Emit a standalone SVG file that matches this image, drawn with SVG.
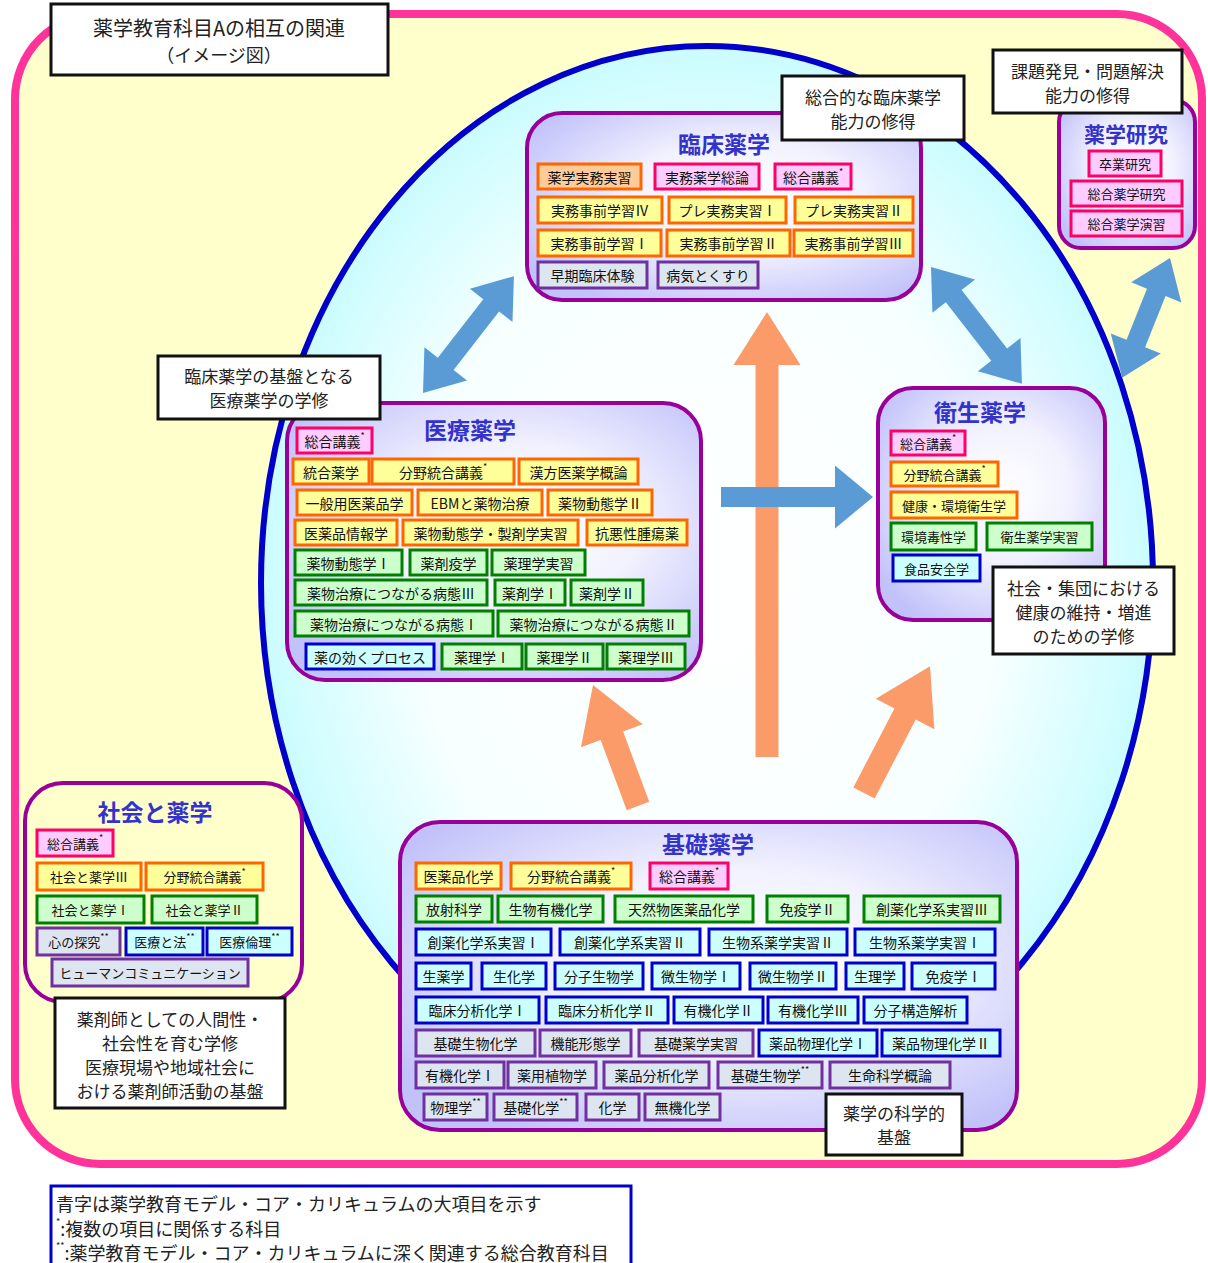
<svg xmlns="http://www.w3.org/2000/svg" width="1208" height="1263" viewBox="0 0 1208 1263">
<defs>
<radialGradient id="gEl" cx="50%" cy="50%" r="50%">
<stop offset="0" stop-color="#ffffff"/>
<stop offset="0.65" stop-color="#f8ffff"/>
<stop offset="1" stop-color="#cafcff"/>
</radialGradient>
<radialGradient id="gPn" cx="55%" cy="45%" r="65%">
<stop offset="0" stop-color="#ffffff"/>
<stop offset="0.45" stop-color="#f2f2ff"/>
<stop offset="1" stop-color="#c2c2fa"/>
</radialGradient>
<style>
text{font-family:"Noto Sans CJK JP","Noto Sans CJK SC",sans-serif;}
.pk{fill:#ffccff;stroke:#ff0066;stroke-width:3}
.or{fill:#ffff99;stroke:#ff6600;stroke-width:3}
.op{fill:#ffcc99;stroke:#ff6600;stroke-width:3}
.gr{fill:#ccffcc;stroke:#008000;stroke-width:3}
.bl{fill:#ccffff;stroke:#0000cc;stroke-width:3}
.pu{fill:#dde6f0;stroke:#7030a0;stroke-width:3}
.t{font-size:14px;fill:#111;text-anchor:middle;dominant-baseline:central}
.s{font-size:13px}
.ti{font-size:23px;font-weight:bold;fill:#3333cc;text-anchor:middle;dominant-baseline:central}
.pn{fill:url(#gPn);stroke:#990099;stroke-width:4}
.lb{fill:#ffffff;stroke:#111111;stroke-width:3}
.lt{font-size:17px;fill:#222;text-anchor:middle;dominant-baseline:central}
.ab{fill:#5b9bd5}
.ao{fill:#fb9b69}
.sup{font-size:9px}
.lg{font-size:18px;fill:#222;dominant-baseline:central}
</style>
</defs>

<rect x="0" y="0" width="1208" height="1263" fill="#ffffff"/>
<rect id="frame" x="15" y="14" width="1187" height="1150" rx="85" fill="#ffffcc" stroke="#ff3399" stroke-width="8"/>
<ellipse id="circle" cx="707" cy="583" rx="446" ry="537" fill="url(#gEl)" stroke="#0000cc" stroke-width="6"/>

<g id="connectors">
<polygon class="ao" points="0,-11.5 392,-11.5 392,-33.5 445,0 392,33.5 392,11.5 0,11.5" transform="translate(767,757) rotate(-90)"/>
<polygon class="ao" points="0,-12 75,-12 75,-33 129,0 75,33 75,12 0,12" transform="translate(638,806) rotate(-110.4)"/>
<polygon class="ao" points="0,-12 89,-12 89,-33 143,0 89,33 89,12 0,12" transform="translate(864,793) rotate(-62.5)"/>
<polygon class="ab" points="0,-10 114,-10 114,-31.5 152,0 114,31.5 114,10 0,10" transform="translate(721,497)"/>
<polygon class="ab" points="0,0 37,-27 37,-10 111,-10 111,-27 148,0 111,27 111,10 37,10 37,27" transform="translate(423,393) rotate(-52.1)"/>
<polygon class="ab" points="0,0 37,-27 37,-10 111,-10 111,-27 148,0 111,27 111,10 37,10 37,27" transform="translate(931,267) rotate(52.1)"/>
<polygon class="ab" points="0,0 37,-27 37,-10 92,-10 92,-27 129,0 92,27 92,10 37,10 37,27" transform="translate(1170,258) rotate(111.8)"/>
</g>

<g id="title">
<rect class="lb" x="51" y="4" width="337" height="71"/>
<text class="lt" x="219" y="27" style="font-size:20px">薬学教育科目Aの相互の関連</text>
<text class="lt" x="219" y="54" style="font-size:18px">（イメージ図）</text>
</g>

<g id="clinical">
<rect class="pn" x="527" y="113" width="394" height="187" rx="35"/>
<text class="ti" x="724" y="143">臨床薬学</text>
<rect class="op" x="538" y="164" width="103" height="25"/><text class="t" x="589.5" y="176.5">薬学実務実習</text>
<rect class="pk" x="655" y="164" width="104" height="25"/><text class="t" x="707" y="176.5">実務薬学総論</text>
<rect class="pk" x="775" y="164" width="76" height="25"/><text class="t" x="813" y="176.5">総合講義<tspan class="sup" dy="-6">*</tspan></text>
<rect class="or" x="538" y="197" width="124" height="26"/><text class="t" x="600" y="210">実務事前学習Ⅳ</text>
<rect class="or" x="669" y="197" width="117" height="26"/><text class="t" x="727.5" y="210">プレ実務実習Ⅰ</text>
<rect class="or" x="795" y="197" width="118" height="26"/><text class="t" x="854" y="210">プレ実務実習Ⅱ</text>
<rect class="or" x="538" y="230" width="123" height="26"/><text class="t" x="599.5" y="243">実務事前学習Ⅰ</text>
<rect class="or" x="667" y="230" width="123" height="26"/><text class="t" x="728.5" y="243">実務事前学習Ⅱ</text>
<rect class="or" x="794" y="230" width="119" height="26"/><text class="t" x="853.5" y="243">実務事前学習Ⅲ</text>
<rect class="pu" x="538" y="262" width="109" height="26"/><text class="t" x="592.5" y="275">早期臨床体験</text>
<rect class="pu" x="658" y="262" width="100" height="26"/><text class="t" x="708" y="275">病気とくすり</text>
</g>
<g id="label-clinical">
<rect class="lb" x="782" y="76" width="182" height="64"/>
<text class="lt" x="873" y="96">総合的な臨床薬学</text>
<text class="lt" x="873" y="120">能力の修得</text>
</g>

<g id="research">
<rect class="pn" x="1059" y="100" width="136" height="148" rx="22"/>
<text class="ti" x="1126" y="133" style="font-size:21px">薬学研究</text>
<rect class="pk" x="1089" y="151" width="72" height="25"/><text class="t s" x="1125" y="163.5">卒業研究</text>
<rect class="pk" x="1071" y="181" width="111" height="25"/><text class="t s" x="1126.5" y="193.5">総合薬学研究</text>
<rect class="pk" x="1071" y="211" width="111" height="25"/><text class="t s" x="1126.5" y="223.5">総合薬学演習</text>
</g>
<g id="label-research">
<rect class="lb" x="993" y="50" width="189" height="63"/>
<text class="lt" x="1087.5" y="70">課題発見・問題解決</text>
<text class="lt" x="1087.5" y="94">能力の修得</text>
</g>

<g id="medical">
<rect class="pn" x="287" y="403" width="414" height="277" rx="38"/>
<text class="ti" x="470" y="429">医療薬学</text>
<rect class="pk" x="297" y="428" width="75" height="25"/><text class="t" x="334.5" y="440.5">総合講義<tspan class="sup" dy="-6">*</tspan></text>
<rect class="or" x="293" y="459" width="76" height="25"/><text class="t" x="331" y="471.5">統合薬学</text>
<rect class="or" x="372" y="459" width="142" height="25"/><text class="t" x="443" y="471.5">分野統合講義<tspan class="sup" dy="-6">*</tspan></text>
<rect class="or" x="519" y="459" width="119" height="25"/><text class="t" x="578.5" y="471.5">漢方医薬学概論</text>
<rect class="or" x="297" y="490" width="115" height="25"/><text class="t" x="354.5" y="502.5">一般用医薬品学</text>
<rect class="or" x="418" y="490" width="124" height="25"/><text class="t" x="480" y="502.5">EBMと薬物治療</text>
<rect class="or" x="548" y="490" width="104" height="25"/><text class="t" x="600" y="502.5">薬物動態学Ⅱ</text>
<rect class="or" x="295" y="520" width="102" height="25"/><text class="t" x="346" y="532.5">医薬品情報学</text>
<rect class="or" x="403" y="520" width="175" height="25"/><text class="t" x="490.5" y="532.5">薬物動態学・製剤学実習</text>
<rect class="or" x="587" y="520" width="100" height="25"/><text class="t" x="637" y="532.5">抗悪性腫瘍薬</text>
<rect class="gr" x="295" y="550" width="107" height="25"/><text class="t" x="348.5" y="562.5">薬物動態学Ⅰ</text>
<rect class="gr" x="410" y="550" width="77" height="25"/><text class="t" x="448.5" y="562.5">薬剤疫学</text>
<rect class="gr" x="492" y="550" width="93" height="25"/><text class="t" x="538.5" y="562.5">薬理学実習</text>
<rect class="gr" x="295" y="580" width="192" height="25"/><text class="t" x="391" y="592.5">薬物治療につながる病態Ⅲ</text>
<rect class="gr" x="495" y="580" width="70" height="25"/><text class="t" x="530" y="592.5">薬剤学Ⅰ</text>
<rect class="gr" x="571" y="580" width="72" height="25"/><text class="t" x="607" y="592.5">薬剤学Ⅱ</text>
<rect class="gr" x="295" y="611" width="198" height="25"/><text class="t" x="394" y="623.5">薬物治療につながる病態Ⅰ</text>
<rect class="gr" x="498" y="611" width="191" height="25"/><text class="t" x="593.5" y="623.5">薬物治療につながる病態Ⅱ</text>
<rect class="bl" x="306" y="644" width="128" height="25"/><text class="t" x="370" y="656.5">薬の効くプロセス</text>
<rect class="gr" x="442" y="644" width="80" height="25"/><text class="t" x="482" y="656.5">薬理学Ⅰ</text>
<rect class="gr" x="526" y="644" width="77" height="25"/><text class="t" x="564.5" y="656.5">薬理学Ⅱ</text>
<rect class="gr" x="607" y="644" width="78" height="25"/><text class="t" x="646" y="656.5">薬理学Ⅲ</text>
</g>
<g id="label-medical">
<rect class="lb" x="158" y="356" width="222" height="63"/>
<text class="lt" x="269" y="375">臨床薬学の基盤となる</text>
<text class="lt" x="269" y="399">医療薬学の学修</text>
</g>

<g id="hygiene">
<rect class="pn" x="878" y="388" width="227" height="232" rx="35"/>
<text class="ti" x="980" y="411">衛生薬学</text>
<rect class="pk" x="891" y="431" width="74" height="24"/><text class="t s" x="928" y="443">総合講義<tspan class="sup" dy="-6">*</tspan></text>
<rect class="or" x="891" y="462" width="107" height="24"/><text class="t s" x="944.5" y="474">分野統合講義<tspan class="sup" dy="-6">*</tspan></text>
<rect class="or" x="891" y="492" width="126" height="26"/><text class="t s" x="954" y="505">健康・環境衛生学</text>
<rect class="gr" x="891" y="523" width="85" height="27"/><text class="t s" x="933.5" y="536.5">環境毒性学</text>
<rect class="gr" x="987" y="523" width="105" height="27"/><text class="t s" x="1039.5" y="536.5">衛生薬学実習</text>
<rect class="bl" x="893" y="555" width="87" height="26"/><text class="t s" x="936.5" y="568">食品安全学</text>
</g>
<g id="label-hygiene">
<rect class="lb" x="993" y="567" width="181" height="87"/>
<text class="lt" x="1083.5" y="587">社会・集団における</text>
<text class="lt" x="1083.5" y="611">健康の維持・増進</text>
<text class="lt" x="1083.5" y="635">のための学修</text>
</g>

<g id="society">
<rect x="25" y="783" width="277" height="219" rx="38" fill="none" stroke="#990099" stroke-width="4"/>
<text class="ti" x="155" y="811">社会と薬学</text>
<rect class="pk" x="37" y="830" width="76" height="26"/><text class="t s" x="75" y="843">総合講義<tspan class="sup" dy="-6">*</tspan></text>
<rect class="or" x="37" y="863" width="104" height="27"/><text class="t s" x="89" y="876.5">社会と薬学Ⅲ</text>
<rect class="or" x="146" y="863" width="117" height="27"/><text class="t s" x="204.5" y="876.5">分野統合講義<tspan class="sup" dy="-6">*</tspan></text>
<rect class="gr" x="37" y="896" width="107" height="27"/><text class="t s" x="90.5" y="909.5">社会と薬学Ⅰ</text>
<rect class="gr" x="152" y="896" width="105" height="27"/><text class="t s" x="204.5" y="909.5">社会と薬学Ⅱ</text>
<rect class="pu" x="37" y="928" width="83" height="27"/><text class="t s" x="78.5" y="941.5">心の探究<tspan class="sup" dy="-6">**</tspan></text>
<rect class="bl" x="126" y="928" width="77" height="27"/><text class="t s" x="164.5" y="941.5">医療と法<tspan class="sup" dy="-6">**</tspan></text>
<rect class="bl" x="207" y="928" width="85" height="27"/><text class="t s" x="249.5" y="941.5">医療倫理<tspan class="sup" dy="-6">**</tspan></text>
<rect class="pu" x="52" y="959" width="196" height="27"/><text class="t s" x="150" y="972.5">ヒューマンコミュニケーション</text>
</g>
<g id="label-society">
<rect class="lb" x="55" y="998" width="230" height="110"/>
<text class="lt" x="170" y="1018">薬剤師としての人間性・</text>
<text class="lt" x="170" y="1042">社会性を育む学修</text>
<text class="lt" x="170" y="1066">医療現場や地域社会に</text>
<text class="lt" x="170" y="1090">おける薬剤師活動の基盤</text>
</g>

<g id="basic">
<rect class="pn" x="400" y="822" width="617" height="308" rx="40"/>
<text class="ti" x="708" y="843">基礎薬学</text>
<rect class="or" x="416" y="863" width="85" height="26"/><text class="t" x="458.5" y="876">医薬品化学</text>
<rect class="or" x="511" y="863" width="120" height="26"/><text class="t" x="571" y="876">分野統合講義<tspan class="sup" dy="-6">*</tspan></text>
<rect class="pk" x="650" y="863" width="78" height="26"/><text class="t" x="689" y="876">総合講義<tspan class="sup" dy="-6">*</tspan></text>

<rect class="gr" x="416" y="896" width="76" height="26"/><text class="t" x="454" y="909">放射科学</text>
<rect class="gr" x="498" y="896" width="105" height="26"/><text class="t" x="550.5" y="909">生物有機化学</text>
<rect class="gr" x="615" y="896" width="138" height="26"/><text class="t" x="684" y="909">天然物医薬品化学</text>
<rect class="gr" x="767" y="896" width="81" height="26"/><text class="t" x="807.5" y="909">免疫学Ⅱ</text>
<rect class="gr" x="864" y="896" width="136" height="26"/><text class="t" x="932" y="909">創薬化学系実習Ⅲ</text>

<rect class="bl" x="416" y="929" width="135" height="26"/><text class="t" x="483.5" y="942">創薬化学系実習Ⅰ</text>
<rect class="bl" x="560" y="929" width="140" height="26"/><text class="t" x="630" y="942">創薬化学系実習Ⅱ</text>
<rect class="bl" x="709" y="929" width="138" height="26"/><text class="t" x="778" y="942">生物系薬学実習Ⅱ</text>
<rect class="bl" x="855" y="929" width="140" height="26"/><text class="t" x="925" y="942">生物系薬学実習Ⅰ</text>

<rect class="bl" x="416" y="963" width="55" height="26"/><text class="t" x="443.5" y="976">生薬学</text>
<rect class="bl" x="482" y="963" width="64" height="26"/><text class="t" x="514" y="976">生化学</text>
<rect class="bl" x="555" y="963" width="88" height="26"/><text class="t" x="599" y="976">分子生物学</text>
<rect class="bl" x="652" y="963" width="88" height="26"/><text class="t" x="696" y="976">微生物学Ⅰ</text>
<rect class="bl" x="750" y="963" width="86" height="26"/><text class="t" x="793" y="976">微生物学Ⅱ</text>
<rect class="bl" x="846" y="963" width="58" height="26"/><text class="t" x="875" y="976">生理学</text>
<rect class="bl" x="912" y="963" width="83" height="26"/><text class="t" x="953.5" y="976">免疫学Ⅰ</text>

<rect class="bl" x="416" y="997" width="123" height="26"/><text class="t" x="477.5" y="1010">臨床分析化学Ⅰ</text>
<rect class="bl" x="546" y="997" width="122" height="26"/><text class="t" x="607" y="1010">臨床分析化学Ⅱ</text>
<rect class="bl" x="674" y="997" width="89" height="26"/><text class="t" x="718.5" y="1010">有機化学Ⅱ</text>
<rect class="bl" x="768" y="997" width="90" height="26"/><text class="t" x="813" y="1010">有機化学Ⅲ</text>
<rect class="bl" x="864" y="997" width="103" height="26"/><text class="t" x="915.5" y="1010">分子構造解析</text>

<rect class="pu" x="416" y="1030" width="119" height="26"/><text class="t" x="475.5" y="1043">基礎生物化学</text>
<rect class="pu" x="540" y="1030" width="91" height="26"/><text class="t" x="585.5" y="1043">機能形態学</text>
<rect class="pu" x="639" y="1030" width="114" height="26"/><text class="t" x="696" y="1043">基礎薬学実習</text>
<rect class="bl" x="759" y="1030" width="118" height="26"/><text class="t" x="818" y="1043">薬品物理化学Ⅰ</text>
<rect class="bl" x="882" y="1030" width="118" height="26"/><text class="t" x="941" y="1043">薬品物理化学Ⅱ</text>

<rect class="pu" x="416" y="1062" width="88" height="26"/><text class="t" x="460" y="1075">有機化学Ⅰ</text>
<rect class="pu" x="508" y="1062" width="88" height="26"/><text class="t" x="552" y="1075">薬用植物学</text>
<rect class="pu" x="604" y="1062" width="105" height="26"/><text class="t" x="656.5" y="1075">薬品分析化学</text>
<rect class="pu" x="718" y="1062" width="104" height="26"/><text class="t" x="770" y="1075">基礎生物学<tspan class="sup" dy="-6">**</tspan></text>
<rect class="pu" x="830" y="1062" width="120" height="26"/><text class="t" x="890" y="1075">生命科学概論</text>

<rect class="pu" x="424" y="1094" width="63" height="26"/><text class="t" x="455.5" y="1107">物理学<tspan class="sup" dy="-6">**</tspan></text>
<rect class="pu" x="494" y="1094" width="83" height="26"/><text class="t" x="535.5" y="1107">基礎化学<tspan class="sup" dy="-6">**</tspan></text>
<rect class="pu" x="586" y="1094" width="53" height="26"/><text class="t" x="612.5" y="1107">化学</text>
<rect class="pu" x="645" y="1094" width="75" height="26"/><text class="t" x="682.5" y="1107">無機化学</text>
</g>
<g id="label-basic">
<rect class="lb" x="826" y="1094" width="136" height="61"/>
<text class="lt" x="894" y="1112">薬学の科学的</text>
<text class="lt" x="894" y="1136">基盤</text>
</g>

<g id="legend">
<rect x="51" y="1186" width="580" height="90" fill="#ffffff" stroke="#0000cc" stroke-width="3"/>
<text class="lg" x="56" y="1203">青字は薬学教育モデル・コア・カリキュラムの大項目を示す</text>
<text class="lg" x="56" y="1228"><tspan class="sup" dy="-7">*</tspan><tspan dy="7">:複数の項目に関係する科目</tspan></text>
<text class="lg" x="56" y="1252"><tspan class="sup" dy="-7">**</tspan><tspan dy="7">:薬学教育モデル・コア・カリキュラムに深く関連する総合教育科目</tspan></text>
</g>
</svg>
